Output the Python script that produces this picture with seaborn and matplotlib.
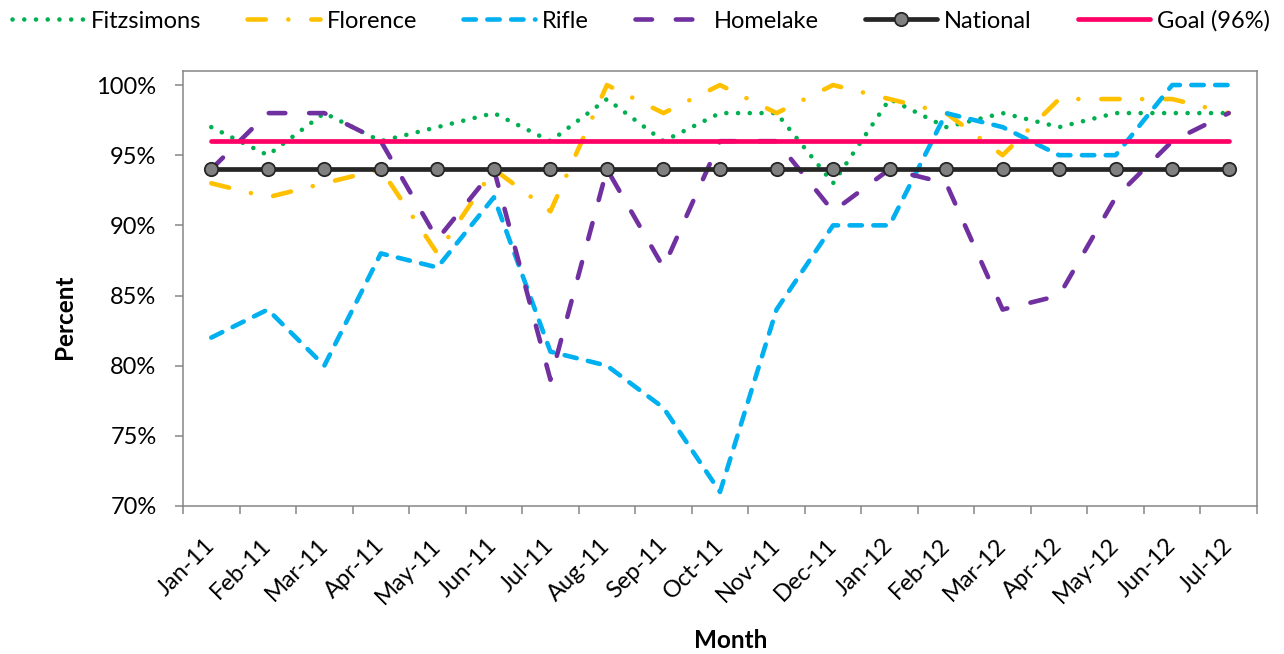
import numpy as np
import matplotlib
matplotlib.use("Agg")
import matplotlib.pyplot as plt
import seaborn as sns
from matplotlib.ticker import PercentFormatter

# Monthly compliance rates (percent)
months = ["Jan-11", "Feb-11", "Mar-11", "Apr-11", "May-11", "Jun-11", "Jul-11",
          "Aug-11", "Sep-11", "Oct-11", "Nov-11", "Dec-11", "Jan-12", "Feb-12",
          "Mar-12", "Apr-12", "May-12", "Jun-12", "Jul-12"]
fitzsimons = [97, 95, 98, 96, 97, 98, 96, 99, 96, 98, 98, 93, 99, 97, 98, 97, 98, 98, 98]
florence = [93, 92, 93, 94, 88, 94, 91, 100, 98, 100, 98, 100, 99, 98, 95, 99, 99, 99, 98]
rifle = [82, 84, 80, 88, 87, 92, 81, 80, 77, 71, 84, 90, 90, 98, 97, 95, 95, 100, 100]
homelake = [94, 98, 98, 96, 89, 94, 79, 94, 87, 96, 96, 91, 94, 93, 84, 85, 92, 96, 98]
national = [94] * len(months)
goal = [96] * len(months)
y_ticks = [70, 75, 80, 85, 90, 95, 100]

sns.set_theme(style="ticks")
plt.rcParams["font.family"] = ["Lato", "DejaVu Sans"]
plt.rcParams["text.color"] = "black"

W, H = 1284, 654
fig = plt.figure(figsize=(W / 100, H / 100), dpi=100)
ax = fig.add_axes([183 / W, 1 - 506 / H, (1257 - 183) / W, (506 - 71) / H])

x = np.arange(len(months))
lw = 3.3
styles = [
    ("Fitzsimons", fitzsimons, "#00B050", (0, (0.01, 2.55))),
    ("Florence", florence, "#FFC000", (0, (4.0, 4.9, 0.01, 5.0))),
    ("Rifle", rifle, "#00B0F0", (0, (2.7, 2.5))),
    ("Homelake", homelake, "#7030A0", (0, (3.6, 5.2))),
]
for name, vals, color, ls in styles:
    sns.lineplot(x=x, y=vals, ax=ax, color=color, linestyle=ls, linewidth=lw,
                 dash_capstyle="round", solid_capstyle="round",
                 label=name, legend=False, sort=False)

sns.lineplot(x=x, y=national, ax=ax, color="#262626", linewidth=3.4,
             marker="o", markersize=9.6, markerfacecolor="#808080",
             markeredgecolor="#262626", markeredgewidth=1.3,
             solid_capstyle="round", label="National", legend=False, sort=False)
sns.lineplot(x=x, y=goal, ax=ax, color="#FF0066", linewidth=3.4,
             solid_capstyle="round", label="Goal (96%)", legend=False, sort=False)

# Axes, ticks and spines
ax.set_xlim(-0.5, len(months) - 0.5)
ax.set_ylim(70, 101)
ax.set_yticks(y_ticks)
ax.yaxis.set_major_formatter(PercentFormatter(xmax=100, decimals=0))
ax.set_xticks(x)
ax.set_xticklabels(months, rotation=45, ha="right", va="center",
                   rotation_mode="anchor")
ax.set_xticks(np.arange(-0.5, len(months), 1), minor=True)
ax.tick_params(axis="x", which="major", length=0, pad=26, labelsize=17,
               labelcolor="black")
ax.tick_params(axis="x", which="minor", length=6, width=1.1,
               color="#868686", direction="out")
ax.tick_params(axis="y", which="major", length=6, width=1.1, color="#868686",
               direction="out", pad=13, labelsize=17, labelcolor="black")
ax.tick_params(axis="y", which="minor", left=False)
for s in ax.spines.values():
    s.set_color("#868686")
    s.set_linewidth(1.1)
ax.set_xlabel("")
ax.set_ylabel("")

fig.text(65 / W, 1 - 317 / H, "Percent", rotation=90, ha="center", va="center",
         fontsize=17.5, fontweight="bold")
fig.text(731 / W, 1 - 640 / H, "Month", ha="center", va="center",
         fontsize=17.5, fontweight="bold")

handles, labels = ax.get_legend_handles_labels()
fig.legend(handles, labels, loc="center", bbox_to_anchor=(641 / W, 1 - 21 / H),
           ncol=6, frameon=False, fontsize=17, handlelength=3.05,
           handletextpad=0.3, columnspacing=1.95, borderaxespad=0, borderpad=0)

fig.savefig("out.png", dpi=100)
